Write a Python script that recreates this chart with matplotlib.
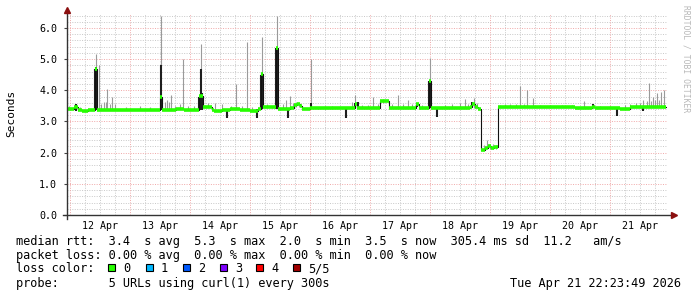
import numpy as np
import matplotlib
matplotlib.use("Agg")
import matplotlib.pyplot as plt

# smokeping style latency graph, 10 days ending Apr 21 22:23
# time axis = days since 12 Apr 00:00

day_labels = ["12 Apr", "13 Apr", "14 Apr", "15 Apr", "16 Apr",
              "17 Apr", "18 Apr", "19 Apr", "20 Apr", "21 Apr"]
y_ticks = [0.0, 1.0, 2.0, 3.0, 4.0, 5.0, 6.0]

# median rtt (seconds), step points
median_day = [-0.05, 0.067, 0.133, 0.200, 0.300, 0.417, 0.450, 0.833, 1.083, 1.300,
              1.500, 1.533, 1.767, 1.900, 2.150, 2.217, 2.367, 2.400, 2.533, 2.667,
              2.833, 3.000, 3.133, 3.183, 3.217, 3.433, 3.467, 3.667, 3.733, 3.783,
              3.833, 3.867, 4.000, 4.667, 4.750, 4.783, 5.167, 5.317, 5.767, 5.817,
              5.983, 6.017, 6.667, 6.700, 6.750, 6.800, 6.850, 6.917, 6.967, 7.017,
              7.067, 7.133, 7.583, 7.917, 8.167, 8.417, 8.700, 8.750, 8.917, 9.167,
              9.333, 9.500, 9.583, 9.667, 9.933]
median_val = [3.40, 3.47, 3.38, 3.35, 3.37, 4.70, 3.37, 3.36, 3.38, 3.36,
              3.80, 3.38, 3.40, 3.37, 3.82, 3.47, 3.38, 3.33, 3.36, 3.40,
              3.38, 3.33, 3.40, 4.52, 3.47, 5.35, 3.40, 3.42, 3.52, 3.57,
              3.50, 3.40, 3.42, 3.44, 3.55, 3.44, 3.65, 3.44, 3.55, 3.44,
              4.30, 3.44, 3.45, 3.55, 3.47, 3.40, 2.10, 2.16, 2.20, 2.14,
              2.17, 3.45, 3.47, 3.46, 3.48, 3.44, 3.47, 3.44, 3.42, 3.40,
              3.45, 3.48, 3.45, 3.48, 3.46]

# smoke (spread of the probes), dark = most probes agree
smoke_day = [-0.017, 0.100, 0.167, 0.417, 0.433, 0.433, 0.483, 0.517, 0.567, 0.600,
             0.617, 0.667, 0.700, 0.750, 0.933, 1.167, 1.333, 1.517, 1.517, 1.583,
             1.617, 1.650, 1.683, 1.750, 1.833, 1.883, 1.967, 2.067, 2.150, 2.167,
             2.183, 2.183, 2.200, 2.300, 2.417, 2.533, 2.617, 2.683, 2.767, 2.867,
             2.950, 3.033, 3.117, 3.183, 3.200, 3.200, 3.283, 3.367, 3.433, 3.450,
             3.450, 3.550, 3.600, 3.633, 3.667, 3.717, 3.767, 3.817, 4.017, 4.017,
             4.133, 4.250, 4.367, 4.600, 4.700, 4.750, 4.750, 4.800, 4.867, 4.967,
             5.050, 5.133, 5.217, 5.367, 5.467, 5.550, 5.633, 5.700, 5.783, 5.867,
             5.983, 6.000, 6.000, 6.117, 6.250, 6.367, 6.500, 6.583, 6.633, 6.700,
             6.733, 6.783, 6.900, 6.950, 7.000, 7.050, 7.100, 7.167, 7.250, 7.333,
             7.433, 7.500, 7.567, 7.617, 7.717, 7.833, 8.000, 8.200, 8.367, 8.567,
             8.717, 8.833, 9.000, 9.117, 9.250, 9.333, 9.433, 9.500, 9.550, 9.550,
             9.617, 9.650, 9.683, 9.717, 9.750, 9.783, 9.817, 9.850, 9.900]
smoke_lo = [3.40, 3.35, 3.40, 3.38, 3.38, 4.75, 3.40, 3.40, 3.40, 3.40,
            3.40, 3.40, 3.40, 3.40, 3.40, 3.40, 3.40, 3.38, 4.80, 3.40,
            3.40, 3.40, 3.40, 3.40, 3.40, 3.40, 3.40, 3.40, 3.38, 3.38,
            3.38, 4.70, 3.38, 3.45, 3.40, 3.40, 3.10, 3.40, 3.40, 3.40,
            3.40, 3.40, 3.12, 3.40, 3.40, 4.55, 3.42, 3.42, 3.40, 3.40,
            5.35, 3.40, 3.40, 3.10, 3.40, 3.40, 3.45, 3.45, 3.40, 3.60,
            3.40, 3.40, 3.40, 3.12, 3.42, 3.42, 3.58, 3.42, 3.42, 3.42,
            3.42, 3.42, 3.60, 3.42, 3.42, 3.42, 3.42, 3.42, 3.45, 3.42,
            3.42, 3.42, 4.30, 3.15, 3.42, 3.42, 3.42, 3.42, 3.42, 3.48,
            3.42, 3.42, 2.10, 2.15, 2.12, 2.12, 2.12, 3.45, 3.45, 3.45,
            3.45, 3.45, 3.45, 3.45, 3.45, 3.45, 3.45, 3.45, 3.45, 3.45,
            3.45, 3.42, 3.42, 3.18, 3.42, 3.45, 3.45, 3.45, 3.35, 3.50,
            3.45, 3.45, 3.45, 3.45, 3.45, 3.45, 3.45, 3.45, 3.45]
smoke_hi = [3.50, 3.55, 3.48, 4.70, 4.75, 5.15, 4.80, 3.55, 3.62, 3.62,
            4.05, 3.55, 3.78, 3.55, 3.48, 3.50, 3.48, 4.80, 6.40, 3.62,
            3.68, 3.62, 3.85, 3.50, 3.55, 5.00, 3.50, 3.50, 3.80, 3.80,
            4.70, 5.48, 3.90, 3.60, 3.60, 3.55, 3.40, 3.50, 4.20, 3.50,
            5.55, 3.48, 3.40, 4.50, 4.55, 5.72, 3.55, 3.50, 5.35, 5.35,
            6.40, 3.55, 3.70, 3.40, 3.82, 3.60, 3.62, 3.60, 3.60, 5.00,
            3.48, 3.50, 3.50, 3.42, 3.62, 3.58, 3.85, 3.62, 3.52, 3.52,
            3.80, 3.55, 3.72, 3.55, 3.85, 3.55, 3.70, 3.55, 3.60, 3.52,
            4.30, 4.30, 5.05, 3.42, 3.52, 3.55, 3.60, 3.72, 3.55, 3.62,
            3.75, 3.58, 2.25, 2.40, 2.25, 2.28, 2.25, 3.52, 3.55, 3.55,
            3.55, 4.13, 3.55, 4.00, 3.75, 3.52, 3.52, 3.52, 3.52, 3.65,
            3.55, 3.50, 3.50, 3.42, 3.52, 3.55, 3.58, 3.60, 3.50, 3.70,
            3.65, 4.25, 3.65, 3.80, 3.70, 3.90, 3.70, 3.95, 4.00]
smoke_dark = [0, 1, 0, 1, 1, 0, 0, 0, 0, 0,
              0, 0, 0, 0, 0, 0, 0, 1, 0, 0,
              0, 0, 0, 0, 0, 0, 0, 0, 1, 1,
              1, 0, 1, 0, 0, 0, 1, 0, 0, 0,
              0, 0, 1, 1, 1, 0, 0, 0, 1, 1,
              0, 0, 0, 1, 0, 0, 0, 0, 1, 0,
              0, 0, 0, 1, 0, 1, 0, 1, 0, 0,
              0, 0, 0, 0, 0, 0, 0, 0, 1, 0,
              1, 1, 0, 1, 0, 0, 0, 0, 0, 1,
              0, 0, 0, 0, 0, 0, 0, 0, 0, 0,
              0, 0, 0, 0, 0, 0, 0, 0, 0, 0,
              1, 0, 0, 1, 0, 0, 0, 0, 1, 0,
              0, 0, 0, 0, 0, 0, 0, 0, 0]

loss_labels = ["0", "1", "2", "3", "4", "5/5"]
loss_colors = ["#26ff00", "#00b8ff", "#0059ff", "#7e00ff", "#ff0000", "#a10000"]

W, H = 697, 297
fig = plt.figure(figsize=(W / 100, H / 100), dpi=100)
fig.patch.set_facecolor("white")

# plot area: x 67..667 px, y 14..215 px
ax = fig.add_axes([67 / W, (H - 215) / H, 600 / W, 201 / H])
ax.set_xlim(-0.05, 9.95)
ax.set_ylim(0, 201 / 31.17)
for s in ax.spines.values():
    s.set_visible(False)

mono = "DejaVu Sans Mono"
red_grid = "#f0a8a8"
gray_grid = "#c8c8c8"
dots = (0, (1, 1.5))

# grid
for d in np.arange(0.25, 10, 0.25):
    if abs(d - round(d)) < 1e-6:
        continue
    ax.axvline(d, color=gray_grid, lw=0.7, ls=dots, zorder=0)
for v in np.arange(0.2, 6.45, 0.2):
    if abs(v - round(v)) < 1e-6:
        continue
    ax.axhline(v, color=gray_grid, lw=0.7, ls=dots, zorder=0)
for d in range(0, 10):
    ax.axvline(d, color=red_grid, lw=0.7, ls=dots, zorder=0.5)
for v in y_ticks[1:]:
    ax.axhline(v, color=red_grid, lw=0.7, ls=dots, zorder=0.5)

# smoke
sd = np.array(smoke_day)
lo = np.array(smoke_lo)
hi = np.array(smoke_hi)
dk = np.array(smoke_dark, dtype=bool)
ax.vlines(sd[~dk], lo[~dk], hi[~dk], color="#9a9a9a", lw=0.8, zorder=2)
ax.vlines(sd[dk], lo[dk], hi[dk], color="#1e1e1e", lw=1.5, zorder=3)

# median
ax.step(median_day, median_val, where="post", color="#111111", lw=0.8, zorder=4)
ax.hlines(median_val[:-1], median_day[:-1], median_day[1:],
          color=loss_colors[0], lw=2.6, zorder=5)

# ticks
ax.set_xticks([d + 0.5 for d in range(10)])
ax.set_xticklabels(day_labels, family=mono, fontsize=7.2)
ax.set_yticks(y_ticks)
ax.set_yticklabels(["%.1f" % v for v in y_ticks], family=mono, fontsize=7.2)
ax.tick_params(axis="x", length=0, pad=4)
ax.tick_params(axis="y", length=2, width=0.8, color="#444444", pad=5)

# axes with arrows
ax.plot([-4 / 600, 1.008], [0, 0], transform=ax.transAxes, color="#333333",
        lw=1.0, clip_on=False, zorder=6)
ax.plot([0, 0], [-4 / 201, 1.01], transform=ax.transAxes, color="#333333",
        lw=1.0, clip_on=False, zorder=6)
ax.plot([1.012], [0], transform=ax.transAxes, marker=">", ms=4.5,
        color="#8b1010", clip_on=False, zorder=7)
ax.plot([0], [1.022], transform=ax.transAxes, marker="^", ms=4.5,
        color="#8b1010", clip_on=False, zorder=7)

fig.text(11 / W, 1 - 113 / H, "Seconds", rotation=90, family=mono, fontsize=8,
         ha="center", va="center")
fig.text(686 / W, 1 - 5 / H, "RRDTOOL / TOBI OETIKER", rotation=270, family=mono,
         fontsize=5.8, color="#b8b8b8", ha="center", va="top")

# legend block
fs = 8.6
fig.text(16 / W, 1 - 241 / H,
         "median rtt:  3.4  s avg  5.3  s max  2.0  s min  3.5  s now  305.4 ms sd  11.2   am/s",
         family=mono, fontsize=fs, va="center")
fig.text(16 / W, 1 - 255 / H,
         "packet loss: 0.00 % avg  0.00 % max  0.00 % min  0.00 % now",
         family=mono, fontsize=fs, va="center")
fig.text(16 / W, 1 - 269 / H, "loss color:", family=mono, fontsize=fs, va="center")
box_x = [108, 146, 183, 220, 256, 293]
for bx, lab, col in zip(box_x, loss_labels, loss_colors):
    fig.patches.append(plt.Rectangle((bx / W, 1 - 271 / H), 7 / W, 7 / H,
                                     transform=fig.transFigure, facecolor=col,
                                     edgecolor="black", lw=0.8))
    fig.text((bx + 15) / W, 1 - 269 / H, lab, family=mono, fontsize=fs, va="center")
fig.text(16 / W, 1 - 283 / H, "probe:       5 URLs using curl(1) every 300s",
         family=mono, fontsize=fs, va="center")
fig.text(681 / W, 1 - 283 / H, "Tue Apr 21 22:23:49 2026",
         family=mono, fontsize=fs, va="center", ha="right")

fig.savefig("out.png", dpi=100)
